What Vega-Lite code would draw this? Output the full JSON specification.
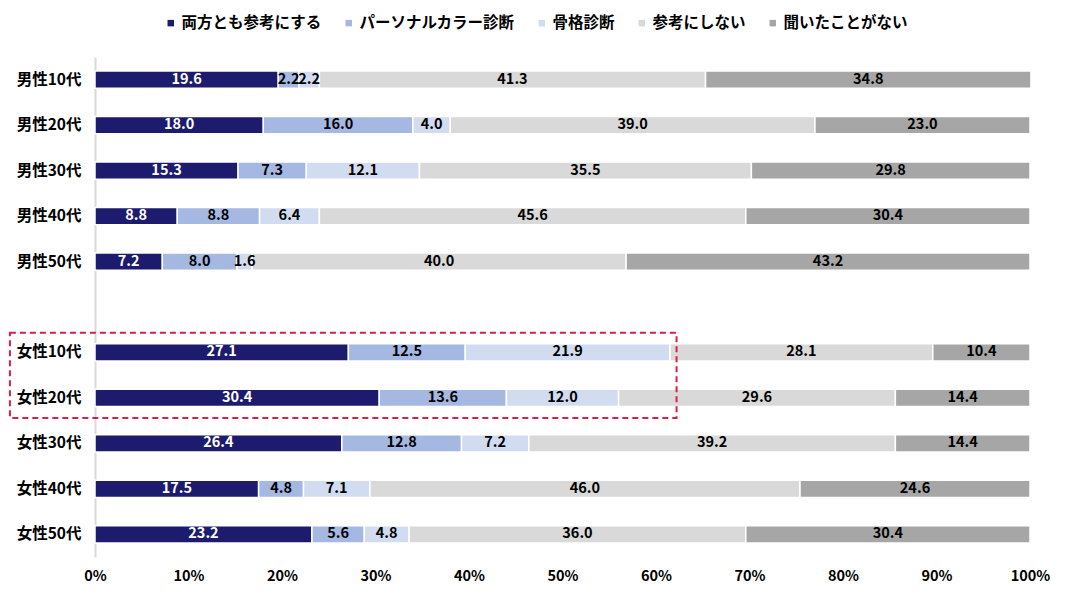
{
  "$schema": "https://vega.github.io/schema/vega-lite/v6.json",
  "width": 935,
  "height": 500,
  "autosize": {"type": "none"},
  "padding": {"left": 95, "top": 57, "right": 41, "bottom": 41},
  "background": "white",
  "config": {
    "view": {"stroke": null},
    "font": "Noto Sans CJK JP"
  },
  "datasets": {
    "main": [
      {"g": "男性10代", "c": "両方とも参考にする", "k": 1, "v": 19.6},
      {"g": "男性10代", "c": "パーソナルカラー診断", "k": 2, "v": 2.2},
      {"g": "男性10代", "c": "骨格診断", "k": 3, "v": 2.2},
      {"g": "男性10代", "c": "参考にしない", "k": 4, "v": 41.3},
      {"g": "男性10代", "c": "聞いたことがない", "k": 5, "v": 34.8},
      {"g": "男性20代", "c": "両方とも参考にする", "k": 1, "v": 18.0},
      {"g": "男性20代", "c": "パーソナルカラー診断", "k": 2, "v": 16.0},
      {"g": "男性20代", "c": "骨格診断", "k": 3, "v": 4.0},
      {"g": "男性20代", "c": "参考にしない", "k": 4, "v": 39.0},
      {"g": "男性20代", "c": "聞いたことがない", "k": 5, "v": 23.0},
      {"g": "男性30代", "c": "両方とも参考にする", "k": 1, "v": 15.3},
      {"g": "男性30代", "c": "パーソナルカラー診断", "k": 2, "v": 7.3},
      {"g": "男性30代", "c": "骨格診断", "k": 3, "v": 12.1},
      {"g": "男性30代", "c": "参考にしない", "k": 4, "v": 35.5},
      {"g": "男性30代", "c": "聞いたことがない", "k": 5, "v": 29.8},
      {"g": "男性40代", "c": "両方とも参考にする", "k": 1, "v": 8.8},
      {"g": "男性40代", "c": "パーソナルカラー診断", "k": 2, "v": 8.8},
      {"g": "男性40代", "c": "骨格診断", "k": 3, "v": 6.4},
      {"g": "男性40代", "c": "参考にしない", "k": 4, "v": 45.6},
      {"g": "男性40代", "c": "聞いたことがない", "k": 5, "v": 30.4},
      {"g": "男性50代", "c": "両方とも参考にする", "k": 1, "v": 7.2},
      {"g": "男性50代", "c": "パーソナルカラー診断", "k": 2, "v": 8.0},
      {"g": "男性50代", "c": "骨格診断", "k": 3, "v": 1.6},
      {"g": "男性50代", "c": "参考にしない", "k": 4, "v": 40.0},
      {"g": "男性50代", "c": "聞いたことがない", "k": 5, "v": 43.2},
      {"g": "女性10代", "c": "両方とも参考にする", "k": 1, "v": 27.1},
      {"g": "女性10代", "c": "パーソナルカラー診断", "k": 2, "v": 12.5},
      {"g": "女性10代", "c": "骨格診断", "k": 3, "v": 21.9},
      {"g": "女性10代", "c": "参考にしない", "k": 4, "v": 28.1},
      {"g": "女性10代", "c": "聞いたことがない", "k": 5, "v": 10.4},
      {"g": "女性20代", "c": "両方とも参考にする", "k": 1, "v": 30.4},
      {"g": "女性20代", "c": "パーソナルカラー診断", "k": 2, "v": 13.6},
      {"g": "女性20代", "c": "骨格診断", "k": 3, "v": 12.0},
      {"g": "女性20代", "c": "参考にしない", "k": 4, "v": 29.6},
      {"g": "女性20代", "c": "聞いたことがない", "k": 5, "v": 14.4},
      {"g": "女性30代", "c": "両方とも参考にする", "k": 1, "v": 26.4},
      {"g": "女性30代", "c": "パーソナルカラー診断", "k": 2, "v": 12.8},
      {"g": "女性30代", "c": "骨格診断", "k": 3, "v": 7.2},
      {"g": "女性30代", "c": "参考にしない", "k": 4, "v": 39.2},
      {"g": "女性30代", "c": "聞いたことがない", "k": 5, "v": 14.4},
      {"g": "女性40代", "c": "両方とも参考にする", "k": 1, "v": 17.5},
      {"g": "女性40代", "c": "パーソナルカラー診断", "k": 2, "v": 4.8},
      {"g": "女性40代", "c": "骨格診断", "k": 3, "v": 7.1},
      {"g": "女性40代", "c": "参考にしない", "k": 4, "v": 46.0},
      {"g": "女性40代", "c": "聞いたことがない", "k": 5, "v": 24.6},
      {"g": "女性50代", "c": "両方とも参考にする", "k": 1, "v": 23.2},
      {"g": "女性50代", "c": "パーソナルカラー診断", "k": 2, "v": 5.6},
      {"g": "女性50代", "c": "骨格診断", "k": 3, "v": 4.8},
      {"g": "女性50代", "c": "参考にしない", "k": 4, "v": 36.0},
      {"g": "女性50代", "c": "聞いたことがない", "k": 5, "v": 30.4}
    ],
    "box": [
      {"a": -9.1, "b": 62.2, "r1": "女性10代", "r2": "女性20代"}
    ]
  },
  "layer": [
    {
      "data": {"name": "main"},
      "transform": [
        {"stack": "v", "groupby": ["g"], "sort": [{"field": "k", "order": "ascending"}], "as": ["x0", "x1"]}
      ],
      "mark": {"type": "bar", "stroke": "white", "strokeWidth": 1.5},
      "encoding": {
        "y": {
          "field": "g", "type": "nominal",
          "scale": {
            "domain": ["男性10代", "男性20代", "男性30代", "男性40代", "男性50代", " ", "女性10代", "女性20代", "女性30代", "女性40代", "女性50代"],
            "paddingInner": 0.62, "paddingOuter": 0.31
          },
          "axis": {
            "title": null, "ticks": false, "domainColor": "#d9d9d9", "domainWidth": 2,
            "labelFontSize": 15.5, "labelFontWeight": "bold", "labelColor": "black", "labelPadding": 14
          }
        },
        "x": {
          "field": "x0", "type": "quantitative",
          "scale": {"domain": [0, 100], "nice": false},
          "axis": {
            "title": null, "ticks": false, "domain": false, "grid": false,
            "values": [0, 10, 20, 30, 40, 50, 60, 70, 80, 90, 100],
            "labelExpr": "datum.value + '%'", "labelFlush": false,
            "labelFontSize": 14.5, "labelFontWeight": "bold", "labelColor": "black", "labelPadding": 12
          }
        },
        "x2": {"field": "x1"},
        "color": {
          "field": "c", "type": "nominal",
          "scale": {
            "domain": ["両方とも参考にする", "パーソナルカラー診断", "骨格診断", "参考にしない", "聞いたことがない"],
            "range": ["#1c1b6e", "#a4b8e2", "#d2dcf1", "#d9d9d9", "#a6a6a6"]
          },
          "legend": {
            "orient": "none", "legendX": 68, "legendY": -42, "padding": 0,
            "direction": "horizontal", "title": null,
            "symbolType": "square", "symbolSize": 42, "symbolStrokeWidth": 0,
            "labelFontSize": 15.5, "labelFontWeight": "bold", "labelColor": "black",
            "columnPadding": 19, "labelOffset": 3
          }
        }
      }
    },
    {
      "data": {"name": "main"},
      "transform": [
        {"stack": "v", "groupby": ["g"], "sort": [{"field": "k", "order": "ascending"}], "as": ["x0", "x1"]},
        {"calculate": "(datum.x0 + datum.x1) / 2", "as": "xm"}
      ],
      "mark": {"type": "text", "fontSize": 14.5, "fontWeight": "bold", "align": "center", "baseline": "middle"},
      "encoding": {
        "y": {"field": "g", "type": "nominal"},
        "x": {"field": "xm", "type": "quantitative"},
        "text": {"field": "v", "type": "quantitative", "format": ".1f"},
        "color": {"condition": {"test": "datum.k == 1", "value": "white"}, "value": "black"}
      }
    },
    {
      "data": {"name": "box"},
      "mark": {"type": "rect", "fill": null, "stroke": "#d6204a", "strokeWidth": 2, "strokeDash": [6, 4], "yOffset": -11, "y2Offset": 20},
      "encoding": {
        "y": {"field": "r1", "type": "nominal", "bandPosition": 0},
        "y2": {"field": "r2"},
        "x": {"field": "a", "type": "quantitative"},
        "x2": {"field": "b"}
      }
    }
  ]
}
